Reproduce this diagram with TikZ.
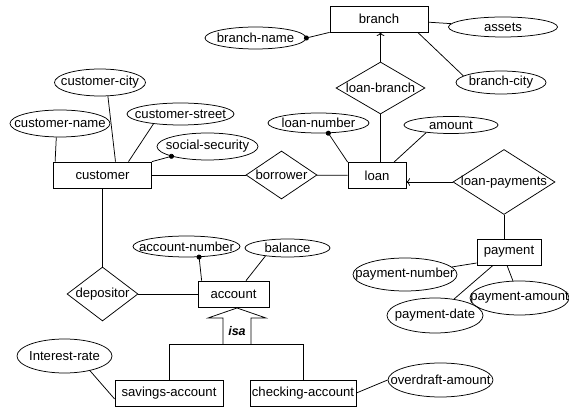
\documentclass[tikz,border=0pt]{standalone}
\usepackage{fontspec}
\setmainfont{Liberation Sans}
\usetikzlibrary{shapes.geometric,arrows.meta}
\begin{document}
\begin{tikzpicture}[x=0.8pt,y=-0.8pt,>=To,line width=0.6pt,font=\fontsize{10.5}{12}\selectfont,
  entity/.style={draw,rectangle,inner sep=0pt,minimum height=20.8pt},
  relation/.style={draw,diamond,inner xsep=-20pt,inner ysep=-3pt},
  attr/.style={draw,ellipse,inner xsep=-20pt,inner ysep=-3pt},
  keyattr/.style={{Circle[length=4pt]}-,shorten <=-2pt}]
  \useasboundingbox (0,0) rectangle (569,407);

  % entities
  \node[entity,minimum width=78.4pt] (branch) at (379,19) {branch};
  \node[entity,minimum width=78.4pt] (customer) at (102.5,175) {customer};
  \node[entity,minimum width=46.4pt] (loan) at (377,175.5) {loan};
  \node[entity,minimum width=51.2pt] (payment) at (509,252) {payment};
  \node[entity,minimum width=56.8pt] (account) at (233.5,294) {account};
  \node[entity,minimum width=86.4pt] (savings) at (169,393) {savings-account};
  \node[entity,minimum width=84.8pt] (checking) at (303,393) {checking-account};

  % relationships
  \node[relation,minimum width=56.8pt,minimum height=38.4pt] (borrower) at (281.5,175) {borrower};
  \node[relation,minimum width=71.2pt,minimum height=41.6pt] (loanbranch) at (380.5,88) {loan-branch};
  \node[relation,minimum width=81.6pt,minimum height=52pt] (loanpay) at (504,182) {loan-payments};
  \node[relation,minimum width=56.8pt,minimum height=43.2pt] (depositor) at (102.5,294) {depositor};

  % attributes
  \node[attr,minimum width=80.8pt,minimum height=17.6pt] (bname) at (255.5,38) {branch-name};
  \node[attr,minimum width=87.2pt,minimum height=16pt] (assets) at (503,27) {assets};
  \node[attr,minimum width=72pt,minimum height=18.4pt] (bcity) at (501,82.5) {branch-city};
  \node[attr,minimum width=72.8pt,minimum height=21.6pt] (ccity) at (100,82.5) {customer-city};
  \node[attr,minimum width=80pt,minimum height=21.6pt] (cname) at (60,123.5) {customer-name};
  \node[attr,minimum width=85.6pt,minimum height=17.6pt] (cstreet) at (180.5,114) {customer-street};
  \node[attr,minimum width=80.8pt,minimum height=21.6pt] (ssn) at (207.5,146.5) {social-security};
  \node[attr,minimum width=80.8pt,minimum height=16pt] (lnum) at (318.5,123) {loan-number};
  \node[attr,minimum width=75.2pt,minimum height=13.6pt] (amount) at (451,125) {amount};
  \node[attr,minimum width=85.6pt,minimum height=16.8pt] (acctnum) at (186.5,246.5) {account-number};
  \node[attr,minimum width=68pt,minimum height=14.4pt] (balance) at (287.5,248) {balance};
  \node[attr,minimum width=83.2pt,minimum height=26.4pt] (pnum) at (405,274.5) {payment-number};
  \node[attr,minimum width=76.8pt,minimum height=28pt] (pdate) at (435,315.5) {payment-date};
  \node[attr,minimum width=79.2pt,minimum height=27.2pt] (pamount) at (519.5,298) {payment-amount};
  \node[attr,minimum width=76pt,minimum height=27.2pt] (irate) at (64.5,356) {Interest-rate};
  \node[attr,minimum width=84pt,minimum height=27.2pt] (odraft) at (440.5,380) {overdraft-amount};

  % branch
  \draw[keyattr] (bname.east) -- (branch.south west);
  \draw (branch) -- (assets);
  \draw ([xshift=31pt]branch.south) -- (bcity.170);
  \draw[->] (loanbranch.north) -- (loanbranch.north |- branch.south);
  \draw (loanbranch.south) -- (loanbranch.south |- loan.north);

  % loan
  \draw[keyattr] (lnum.-46) -- (loan.north west);
  \draw (amount.197) -- ([xshift=13.6pt]loan.north);
  \draw (borrower) -- (loan);
  \draw[->] (loanpay.west) -- (loanpay.west -| loan.east);
  \draw (loanpay.south) -- (loanpay.south |- payment.north);
  \draw (pnum) -- ([yshift=-8.8pt]payment.west);
  \draw (pdate) -- ([xshift=-12.8pt]payment.south);
  \draw (pamount) -- ([xshift=-1.6pt]payment.south);

  % customer
  \draw (cname.255) -- ([xshift=1.6pt]customer.north west);
  \draw (ccity.-60) -- ([xshift=10.4pt]customer.north);
  \draw (cstreet.200) -- ([xshift=20.8pt]customer.north);
  \draw[keyattr] (ssn) -- (customer.north east);
  \draw (customer) -- (borrower);
  \draw (customer) -- (depositor);

  % account
  \draw (depositor) -- (account);
  \draw[keyattr] (acctnum.-40) -- ([xshift=3.2pt]account.north west);
  \draw (balance.200) -- ([xshift=10pt]account.north);

  % isa
  \coordinate (isa) at (237,308);
  \coordinate (isabar) at (237,344);
  \draw (isa) -- ++(29,10) -- ++(-15,0) -- ++(0,26);
  \draw (isa) -- ++(-29,10) -- ++(15,0) -- ++(0,26);
  \node[font=\bfseries\itshape] (isalabel) at (237,331) {isa};
  \draw (savings.north) |- (isabar -| checking.north) -- (checking.north);
  \draw (irate.-30) -- ([yshift=-4.8pt]savings.west);
  \draw (odraft.west) -- (checking.east);
\end{tikzpicture}
\end{document}
